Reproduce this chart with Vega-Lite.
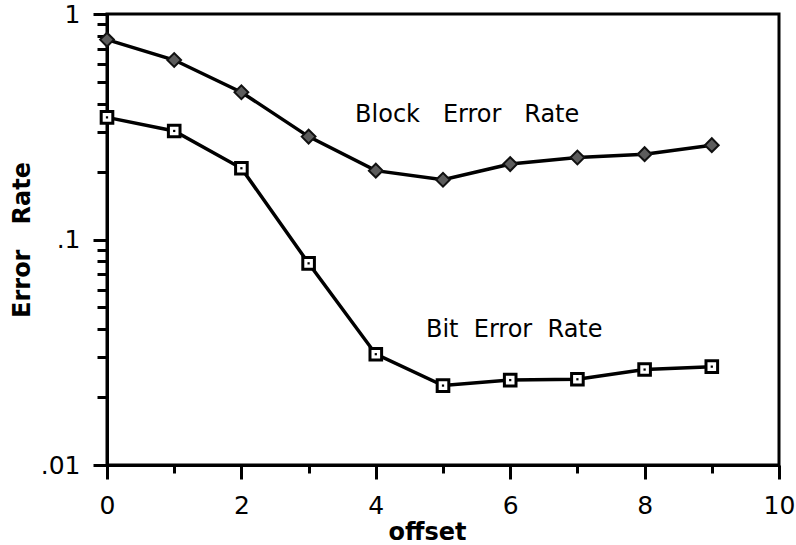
{
  "$schema": "https://vega.github.io/schema/vega-lite/v6.json",
  "width": 672,
  "height": 451,
  "autosize": {"type": "none"},
  "padding": {"left": 107, "top": 14, "right": 17, "bottom": 80},
  "background": "white",
  "config": {
    "view": {"stroke": "black", "strokeWidth": 3},
    "font": "DejaVu Sans",
    "axis": {
      "grid": false,
      "domainColor": "black",
      "domainWidth": 3,
      "tickColor": "black",
      "tickWidth": 3,
      "labelColor": "black",
      "labelFont": "DejaVu Sans",
      "labelFontSize": 25,
      "titleColor": "black",
      "titleFont": "DejaVu Sans",
      "titleFontWeight": "bold",
      "titleFontSize": 24
    }
  },
  "datasets": {
    "rates": [
      {"offset": 0, "rate": 0.77, "series": "Block Error Rate"},
      {"offset": 1, "rate": 0.625, "series": "Block Error Rate"},
      {"offset": 2, "rate": 0.45, "series": "Block Error Rate"},
      {"offset": 3, "rate": 0.286, "series": "Block Error Rate"},
      {"offset": 4, "rate": 0.202, "series": "Block Error Rate"},
      {"offset": 5, "rate": 0.184, "series": "Block Error Rate"},
      {"offset": 6, "rate": 0.216, "series": "Block Error Rate"},
      {"offset": 7, "rate": 0.231, "series": "Block Error Rate"},
      {"offset": 8, "rate": 0.239, "series": "Block Error Rate"},
      {"offset": 9, "rate": 0.262, "series": "Block Error Rate"},
      {"offset": 0, "rate": 0.348, "series": "Bit Error Rate"},
      {"offset": 1, "rate": 0.303, "series": "Bit Error Rate"},
      {"offset": 2, "rate": 0.207, "series": "Bit Error Rate"},
      {"offset": 3, "rate": 0.0784, "series": "Bit Error Rate"},
      {"offset": 4, "rate": 0.031, "series": "Bit Error Rate"},
      {"offset": 5, "rate": 0.0225, "series": "Bit Error Rate"},
      {"offset": 6, "rate": 0.0238, "series": "Bit Error Rate"},
      {"offset": 7, "rate": 0.024, "series": "Bit Error Rate"},
      {"offset": 8, "rate": 0.0265, "series": "Bit Error Rate"},
      {"offset": 9, "rate": 0.0273, "series": "Bit Error Rate"}
    ],
    "labels": [
      {"offset": 5.36, "rate": 0.331, "label": "Block\u00a0\u00a0\u00a0Error\u00a0\u00a0\u00a0Rate"},
      {"offset": 6.06, "rate": 0.0371, "label": "Bit\u00a0\u00a0Error\u00a0\u00a0Rate"}
    ]
  },
  "encoding": {
    "x": {
      "field": "offset",
      "type": "quantitative",
      "scale": {"domain": [0, 10], "nice": false, "zero": false},
      "axis": {
        "title": "offset",
        "values": [0, 1, 2, 3, 4, 5, 6, 7, 8, 9, 10],
        "labelExpr": "datum.value % 2 == 0 ? datum.label : ''",
        "tickSize": {"condition": {"test": "datum.value % 2 == 0", "value": 14}, "value": 8},
        "labelPadding": 14,
        "labelFlush": false,
        "labelOverlap": false,
        "titlePadding": 2,
        "titleX": 320
      }
    },
    "y": {
      "field": "rate",
      "type": "quantitative",
      "scale": {"type": "log", "domain": [0.01, 1], "nice": false},
      "axis": {
        "title": "Error\u00a0\u00a0\u00a0Rate",
        "values": [0.01, 0.02, 0.03, 0.04, 0.05, 0.06, 0.07, 0.08, 0.09, 0.1, 0.2, 0.3, 0.4, 0.5, 0.6, 0.7, 0.8, 0.9, 1],
        "labelExpr": "datum.value == 1 ? '1' : datum.value == 0.1 ? '.1' : datum.value == 0.01 ? '.01' : ''",
        "tickSize": {"condition": {"test": "datum.value == 1 || datum.value == 0.1 || datum.value == 0.01", "value": 14}, "value": 10},
        "labelPadding": 13,
        "labelFlush": false,
        "labelOverlap": false,
        "titlePadding": 6
      }
    }
  },
  "layer": [
    {
      "data": {"name": "rates"},
      "mark": {"type": "line", "color": "black", "strokeWidth": 3.5},
      "encoding": {"detail": {"field": "series"}}
    },
    {
      "data": {"name": "rates"},
      "transform": [{"filter": "datum.series == 'Block Error Rate'"}],
      "mark": {"type": "point", "shape": "diamond", "filled": true, "fill": "#5c5c5c", "stroke": "#111111", "strokeWidth": 2, "size": 190, "opacity": 1}
    },
    {
      "data": {"name": "rates"},
      "transform": [{"filter": "datum.series == 'Bit Error Rate'"}],
      "mark": {"type": "point", "shape": "square", "filled": true, "fill": "white", "stroke": "black", "strokeWidth": 3, "size": 135, "opacity": 1}
    },
    {
      "data": {"name": "rates"},
      "transform": [{"filter": "datum.series == 'Bit Error Rate'"}],
      "mark": {"type": "point", "shape": "square", "filled": true, "color": "black", "size": 5, "opacity": 1}
    },
    {
      "data": {"name": "labels"},
      "mark": {"type": "text", "fontSize": 24, "font": "DejaVu Sans", "align": "center", "baseline": "alphabetic", "color": "black"},
      "encoding": {"text": {"field": "label"}}
    }
  ]
}
